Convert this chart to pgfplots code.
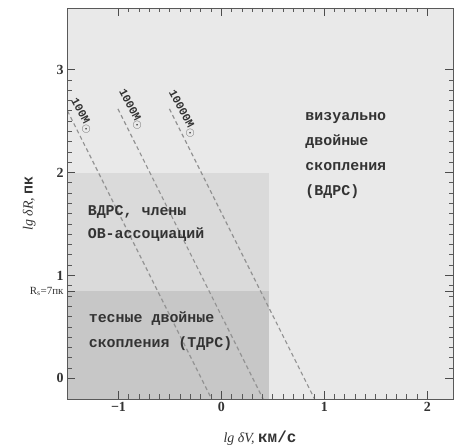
\documentclass[border=0pt]{standalone}
\usepackage{fontspec}
\setmainfont{Liberation Serif}
\setmonofont{Liberation Mono}
\usepackage{pgfplots}
\pgfplotsset{compat=1.18}
\definecolor{bgA}{gray}{0.915}
\definecolor{bgB}{gray}{0.855}
\definecolor{bgC}{gray}{0.78}
\definecolor{txt}{gray}{0.2}
\begin{document}
\begin{tikzpicture}
\begin{axis}[
  scale only axis, width=386bp, height=391bp,
  xmin=-1.5, xmax=2.25, ymin=-0.2, ymax=3.6,
  axis background/.style={fill=bgA},
  axis line style={gray!70!black, line width=0.7pt},
  xtick={-1,0,1,2}, xticklabels={−1,0,1,2},
  ytick={0,1,2,3}, yticklabels={0,1,2,3},
  minor tick num=9,
  extra y ticks={0.845},
  extra y tick labels={R\textsubscript{s}=7пк},
  extra y tick style={tick label style={font=\fontsize{11}{11}\selectfont}},
  tick align=inside,
  major tick length=8bp, minor tick length=4.5bp,
  major tick style={draw=black!70, line width=1pt},
  minor tick style={draw=black!65, line width=0.9pt},
  ticklabel style={font=\fontsize{14}{14}\selectfont\bfseries, text=txt},
  xlabel={{\itshape lg δV,} {\fontsize{16}{16}\selectfont\ttfamily\bfseries км/с}},
  ylabel={{\itshape lg δR,} {\fontsize{15}{15}\selectfont\ttfamily\bfseries пк}},
  label style={font=\fontsize{14}{14}\selectfont, text=txt},
  xlabel style={at={(axis description cs:0.5,-0.1)}, anchor=center},
  ylabel style={at={(axis description cs:-0.098,0.5)}, anchor=center},
  set layers, axis on top,
]
\addplot[fill=bgB, draw=none] coordinates {(-1.5,-0.2) (0.46,-0.2) (0.46,2) (-1.5,2)} -- cycle;
\addplot[fill=bgC, draw=none] coordinates {(-1.5,-0.2) (0.46,-0.2) (0.46,0.845) (-1.5,0.845)} -- cycle;
\addplot[gray!85, line width=1.2bp, dash pattern=on 4bp off 3bp] coordinates {(-1.495,2.6) (-0.095,-0.2)};
\addplot[gray!85, line width=1.2bp, dash pattern=on 4bp off 3bp] coordinates {(-1.005,2.62) (0.405,-0.2)};
\addplot[gray!85, line width=1.2bp, dash pattern=on 4bp off 3bp] coordinates {(-0.505,2.62) (0.905,-0.2)};
\node[rotate=-62, font=\fontsize{11.5}{11.5}\selectfont\ttfamily\bfseries, text=txt, inner sep=0pt] at (axis cs:-1.36,2.55) {100M\textsubscript{\large$\odot$}};
\node[rotate=-62, font=\fontsize{11.5}{11.5}\selectfont\ttfamily\bfseries, text=txt, inner sep=0pt] at (axis cs:-0.88,2.61) {1000M\textsubscript{\large$\odot$}};
\node[rotate=-62, font=\fontsize{11.5}{11.5}\selectfont\ttfamily\bfseries, text=txt, inner sep=0pt] at (axis cs:-0.38,2.57) {10000M\textsubscript{\large$\odot$}};
\node[anchor=west, align=left, inner sep=0pt, font=\fontsize{15}{25}\selectfont\ttfamily\bfseries, text=txt] at (axis cs:0.815,2.167) {визуально\\двойные\\скопления\\(ВДРС)};
\node[anchor=west, align=left, inner sep=0pt, font=\fontsize{15}{23}\selectfont\ttfamily\bfseries, text=txt] at (axis cs:-1.30,1.504) {ВДРС, члены\\ОВ-ассоциаций};
\node[anchor=west, align=left, inner sep=0pt, font=\fontsize{15}{25}\selectfont\ttfamily\bfseries, text=txt] at (axis cs:-1.29,0.4625) {тесные двойные\\скопления (ТДРС)};
\end{axis}
\pgfresetboundingbox
\path (current axis.south west) ++(-67bp,-48bp) rectangle ([shift={(5bp,8bp)}]current axis.north east);
\end{tikzpicture}
\end{document}
